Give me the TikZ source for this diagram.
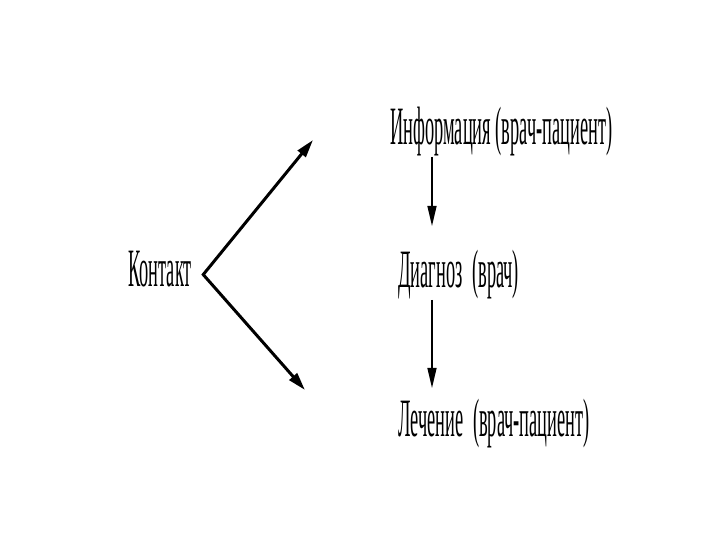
\documentclass[tikz,border=0pt]{standalone}
\usepackage{fontspec}
\setmainfont{Liberation Serif}
\newfontfamily\narrowfont[FakeStretch=0.34]{Liberation Serif}
\usetikzlibrary{arrows.meta}
\begin{document}
\begin{tikzpicture}[x=0.5pt,y=-0.5pt,
  txt/.style={inner sep=0,anchor=base west,font=\narrowfont\fontsize{27}{27}\selectfont},
  fork arr/.style={line width=1.5pt,line join=miter,{Triangle[length=9pt,width=5pt]}-{Triangle[length=9pt,width=5pt]}},
  step arr/.style={line width=0.7pt,-{Triangle[length=10pt,width=4.5pt]}}
  ]
  \useasboundingbox (0,0) rectangle (720,540);
  % 
  % Labels
  % 
  \node(kontakt)[txt] at (128,287) {Контакт};
  \node(info)   [txt] at (390,145) {Информация (врач-пациент)};
  \node(diag)   [txt] at (398,288) {Диагноз\hspace{2.5pt} (врач)};
  \node(treat)  [txt] at (398,437) {Лечение\hspace{2.5pt} (врач-пациент)};
  % 
  % Arrows
  % 
  \coordinate (fork) at ([xshift=5.5pt,yshift=-2.5pt]kontakt.east);
  \coordinate (up)   at (313,140);
  \coordinate (down) at (305,390);
  \coordinate (a1)   at (432,226);
  \coordinate (a2)   at (432,388);
  % kontakt -> info / treat
  \draw[fork arr] (up) -- (fork) -- (down);
  % info -> diag
  \draw[step arr] (info.south -| a1) -- (a1);
  % diag -> treat
  \draw[step arr] (diag.south -| a2) -- (a2);
\end{tikzpicture}
\end{document}
